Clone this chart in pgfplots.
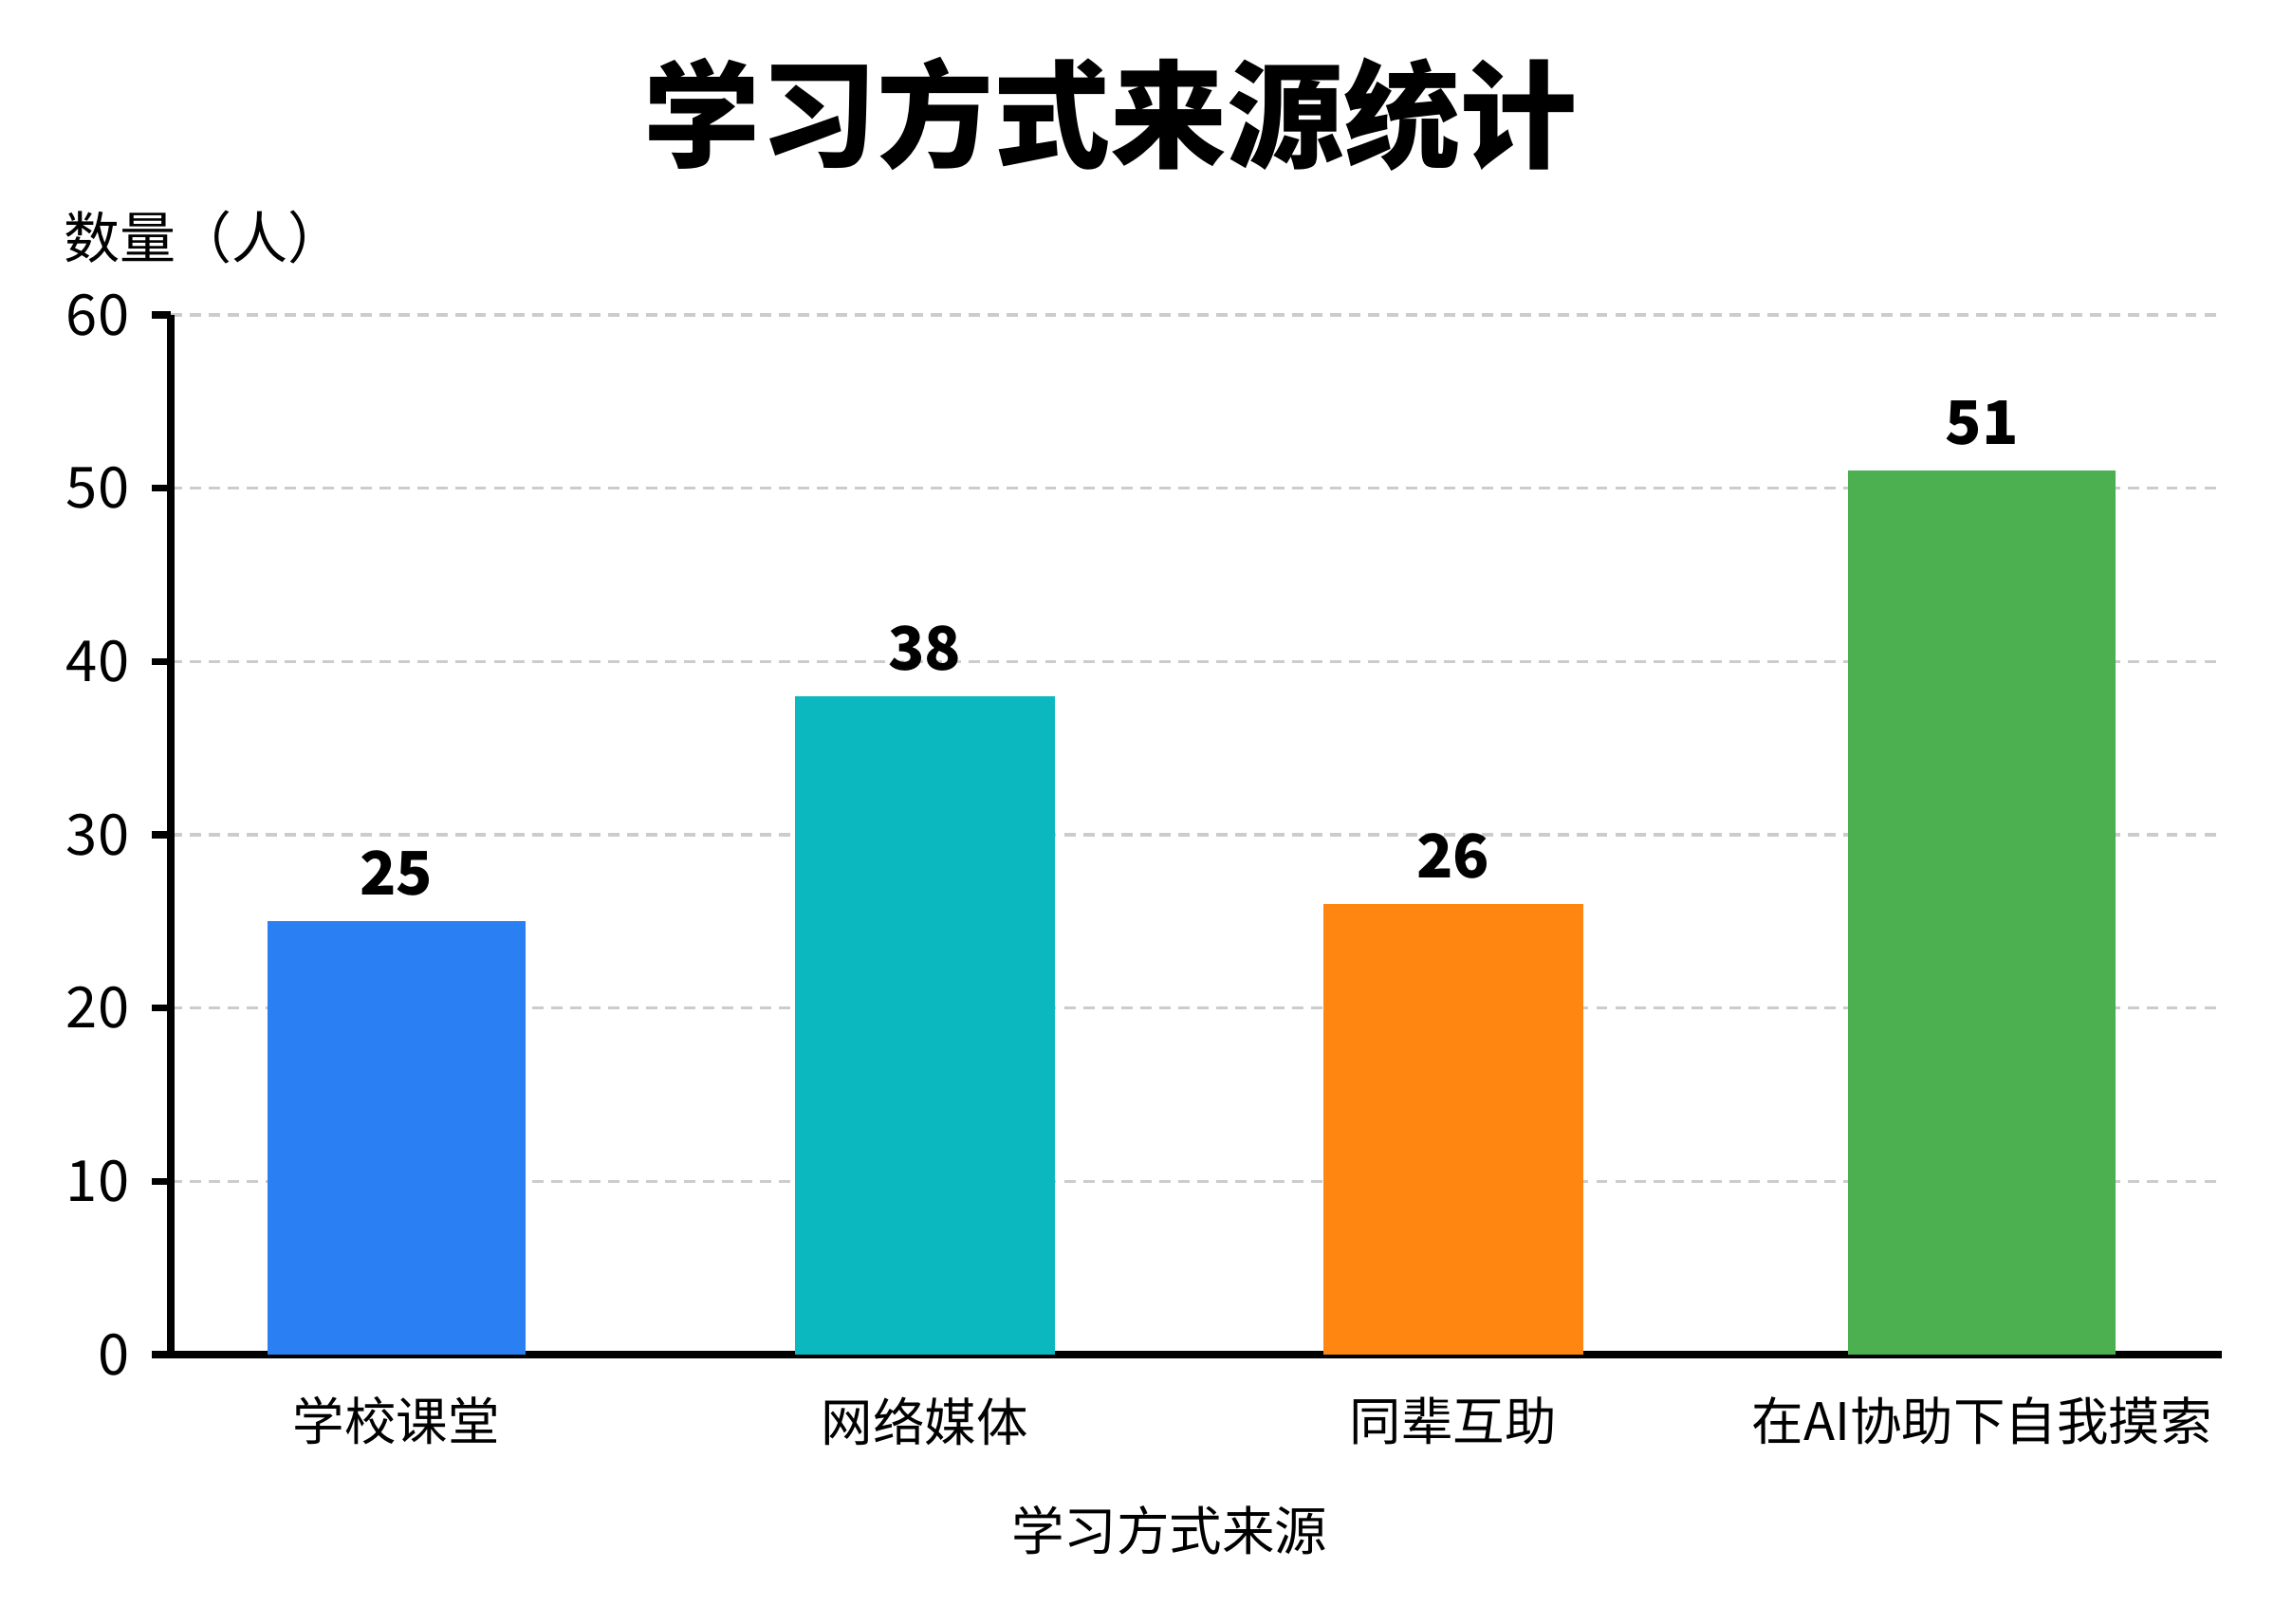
\documentclass[border=0pt]{standalone}
\usepackage{pgfplots}
\pgfplotsset{compat=1.18}
\usepackage{fontspec}
\setmainfont{Noto Sans CJK SC}

\definecolor{barblue}{HTML}{2A7FF2}
\definecolor{barteal}{HTML}{0BB8C0}
\definecolor{barorange}{HTML}{FF8611}
\definecolor{bargreen}{HTML}{4CAF50}
\definecolor{gridgray}{HTML}{CCCCCC}

\begin{document}
\begin{tikzpicture}
\path[use as bounding box] (0,0) rectangle (241.6mm,171.2mm);
\begin{axis}[
  at={(18mm,28.4mm)}, anchor=south west,
  width=216.2mm, height=109.6mm, scale only axis,
  xmin=-0.4265, xmax=3.454,
  ymin=0, ymax=60,
  ytick={0,10,...,60},
  xtick={0,1,2,3},
  xticklabels={学校课堂,网络媒体,同辈互助,在AI协助下自我摸索},
  axis x line*=bottom, axis y line*=left,
  axis line style={-, black, line width=2pt},
  xtick style={draw=none},
  ytick style={black, line width=2pt},
  tick align=outside,
  major tick length=2mm,
  ymajorgrids,
  major grid style={gridgray, line width=0.9pt, dash pattern=on 3.4pt off 2.3pt},
  /pgf/number format/assume math mode=true,
  yticklabel style={font=\fontsize{17}{20}\selectfont, inner sep=0pt, xshift=-2.3mm},
  xticklabel style={font=\fontsize{15.5}{18}\selectfont, inner sep=0pt, yshift=-2.4mm, anchor=north},
  title={学习方式来源统计},
  title style={at={(axis description cs:0.458,1.174)}, anchor=center,
    font=\fontsize{35}{40}\selectfont\bfseries},
  ylabel={数量（人）},
  every axis y label/.style={at={(axis description cs:-0.058,1.075)}, anchor=west,
    font=\fontsize{16.8}{19}\selectfont},
  xlabel={学习方式来源},
  every axis x label/.style={at={(axis description cs:0.487,-0.169)}, anchor=center,
    font=\fontsize{15.8}{19}\selectfont},
  ybar,
  nodes near coords,
  nodes near coords style={font=\fontsize{18}{21}\selectfont\bfseries, anchor=south,
    inner sep=0pt, yshift=2.6mm, black},
  clip=false,
]
\addplot[fill=barblue, draw=none, bar width=27.2mm, bar shift=0pt] coordinates {(0,25)};
\addplot[fill=barteal, draw=none, bar width=27.4mm, bar shift=0pt] coordinates {(1,38)};
\addplot[fill=barorange, draw=none, bar width=27.4mm, bar shift=0pt] coordinates {(2,26)};
\addplot[fill=bargreen, draw=none, bar width=28.2mm, bar shift=0pt] coordinates {(3,51)};
\end{axis}
\end{tikzpicture}
\end{document}
